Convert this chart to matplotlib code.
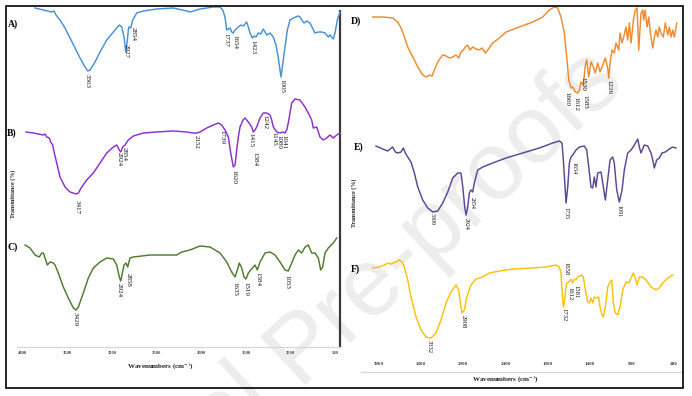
import matplotlib
matplotlib.use("Agg")
import matplotlib.pyplot as plt
from matplotlib.patches import Rectangle

plt.rcParams["mathtext.fontset"] = "stix"

# =============================
# DATA (wavenumber cm-1, transmittance a.u.)
# =============================
wn_A = [3862, 3769, 3675, 3649, 3627, 3582, 3526, 3470, 3414, 3358, 3302, 3272, 3246, 3190,
        3134, 3059, 2985, 2918, 2891, 2865, 2846, 2828, 2813, 2790, 2768, 2723, 2649, 2499,
        2313, 2163, 2126, 2089, 2014, 1865, 1790, 1760, 1734, 1715, 1697, 1678, 1659, 1641,
        1622, 1585, 1558, 1529, 1491, 1473, 1454, 1428, 1409, 1387, 1361, 1334, 1305, 1286,
        1267, 1230, 1193, 1163, 1137, 1118, 1107, 1092, 1062, 1036, 1006, 969, 913, 894,
        875, 849, 819, 782, 726, 689, 651, 614, 577, 558, 521, 502, 476, 446]
t_A = [99, 97, 95, 96, 92, 87, 79, 69, 59, 49, 40, 36, 37, 45,
       55, 67, 75, 82, 80, 70, 55, 67, 80, 79, 87, 94, 96, 98,
       99, 96, 95, 96, 98, 100, 100, 97, 90, 77, 78, 79, 75, 74,
       77, 80, 82, 81, 85, 80, 74, 69, 71, 70, 74, 73, 78, 75,
       72, 74, 70, 62, 49, 37, 30, 40, 60, 77, 87, 89, 91, 90,
       87, 84, 86, 84, 74, 75, 75, 74, 70, 72, 68, 74, 87, 95]

wn_B = [3963, 3881, 3769, 3750, 3731, 3702, 3686, 3664, 3649, 3619, 3582, 3526, 3470, 3403,
        3377, 3339, 3283, 3209, 3134, 3059, 2985, 2947, 2918, 2902, 2880, 2854, 2817, 2761,
        2649, 2499, 2313, 2163, 2089, 2051, 2014, 1939, 1865, 1809, 1771, 1734, 1697, 1670,
        1641, 1622, 1603, 1585, 1566, 1532, 1510, 1473, 1435, 1417, 1398, 1379, 1342, 1305,
        1267, 1230, 1211, 1193, 1155, 1118, 1081, 1062, 1043, 1025, 987, 950, 894, 838,
        801, 763, 745, 707, 670, 633, 595, 558, 521, 483, 446]
t_B = [65, 64, 62, 63, 60, 59, 55, 52, 45, 34, 20, 10, 5, 3,
       4, 10, 17, 24, 34, 44, 50, 52, 47, 45, 50, 52, 57, 61,
       64, 65, 66, 65, 64, 64, 65, 69, 72, 74, 72, 67, 60, 44,
       30, 32, 47, 60, 70, 77, 79, 75, 70, 65, 67, 70, 79, 84,
       84, 82, 77, 70, 65, 64, 65, 64, 67, 74, 94, 98, 97, 90,
       84, 77, 69, 70, 60, 57, 59, 62, 59, 62, 64]

wn_C = [3974, 3918, 3862, 3814, 3787, 3769, 3750, 3724, 3694, 3657, 3638, 3601, 3545, 3489,
        3433, 3403, 3377, 3321, 3265, 3209, 3134, 3059, 2985, 2947, 2918, 2902, 2884, 2865,
        2843, 2824, 2798, 2761, 2574, 2387, 2275, 2219, 2126, 2014, 1902, 1790, 1715, 1659,
        1622, 1596, 1574, 1547, 1521, 1499, 1473, 1446, 1417, 1398, 1372, 1342, 1286, 1230,
        1174, 1118, 1062, 1025, 987, 950, 913, 875, 838, 801, 763, 726, 689, 662,
        640, 614, 577, 521, 483]
t_C = [92, 89, 82, 80, 84, 84, 79, 72, 75, 74, 72, 64, 50, 39,
       29, 27, 30, 44, 59, 69, 75, 79, 78, 72, 60, 56, 64, 72,
       74, 70, 79, 80, 82, 82, 82, 85, 87, 91, 90, 84, 75, 65,
       60, 67, 74, 69, 60, 58, 64, 67, 70, 72, 67, 75, 84, 85,
       82, 75, 67, 66, 74, 82, 87, 84, 90, 92, 84, 84, 79, 67,
       70, 84, 89, 94, 99]

wn_D = [3975, 3856, 3738, 3678, 3639, 3600, 3560, 3500, 3441, 3382, 3343, 3303, 3271, 3244,
        3204, 3145, 3105, 3066, 3026, 2987, 2955, 2928, 2900, 2877, 2848, 2821, 2789, 2750,
        2711, 2679, 2639, 2611, 2551, 2473, 2394, 2236, 2077, 1959, 1880, 1821, 1781, 1742,
        1702, 1674, 1650, 1623, 1603, 1572, 1543, 1524, 1504, 1477, 1453, 1437, 1413, 1386,
        1358, 1335, 1306, 1279, 1247, 1216, 1188, 1176, 1160, 1137, 1110, 1089, 1057, 1042,
        1018, 998, 971, 951, 931, 911, 884, 860, 840, 820, 793, 773, 761, 745,
        721, 701, 682, 654, 635, 615, 595, 576, 556, 528, 505, 476, 457, 437,
        417, 398, 369]
t_D = [85, 85, 84, 80, 74, 65, 55, 45, 35, 27, 25, 27, 26, 32,
       40, 47, 46, 44, 45, 47, 44, 50, 52, 55, 57, 52, 55, 53,
       52, 54, 49, 52, 59, 64, 70, 75, 80, 85, 92, 95, 94, 85,
       69, 45, 22, 14, 15, 10, 9, 12, 20, 17, 37, 42, 25, 40,
       35, 29, 39, 30, 37, 44, 34, 24, 39, 52, 49, 59, 52, 69,
       59, 65, 75, 62, 79, 59, 82, 92, 94, 52, 89, 92, 82, 92,
       75, 85, 69, 54, 65, 72, 65, 75, 69, 65, 79, 67, 75, 65,
       72, 65, 79]

wn_E = [3936, 3856, 3797, 3738, 3707, 3678, 3639, 3612, 3588, 3560, 3521, 3481, 3441, 3382,
        3323, 3263, 3204, 3145, 3085, 3026, 2967, 2928, 2907, 2884, 2868, 2848, 2829, 2809,
        2789, 2770, 2730, 2670, 2552, 2394, 2236, 2157, 1999, 1840, 1762, 1730, 1714, 1694,
        1682, 1662, 1643, 1623, 1603, 1564, 1524, 1465, 1437, 1413, 1386, 1366, 1347, 1327,
        1307, 1267, 1247, 1216, 1188, 1160, 1129, 1110, 1081, 1050, 1018, 991, 951, 911,
        872, 832, 813, 793, 754, 714, 674, 654, 635, 607, 576, 544, 505, 457,
        417, 378]
t_E = [76, 73, 71, 75, 70, 69, 70, 74, 69, 65, 60, 49, 35, 22,
       14, 10, 11, 19, 30, 44, 49, 49, 35, 15, 7, 15, 29, 32,
       30, 39, 52, 55, 59, 64, 68, 70, 74, 79, 81, 79, 62, 35,
       19, 35, 59, 65, 67, 72, 75, 76, 72, 55, 35, 34, 45, 35,
       49, 50, 39, 22, 42, 62, 65, 59, 32, 20, 32, 52, 69, 72,
       77, 83, 75, 69, 77, 76, 69, 62, 54, 62, 64, 69, 70, 73,
       75, 74]

wn_F = [3975, 3897, 3837, 3797, 3758, 3738, 3698, 3659, 3627, 3600, 3560, 3521, 3461, 3402,
        3343, 3283, 3224, 3165, 3105, 3046, 2987, 2955, 2936, 2916, 2888, 2860, 2809, 2750,
        2670, 2592, 2473, 2314, 2077, 1919, 1801, 1762, 1742, 1722, 1710, 1691, 1674, 1650,
        1623, 1603, 1584, 1564, 1544, 1504, 1477, 1453, 1425, 1406, 1386, 1366, 1347, 1318,
        1295, 1279, 1255, 1240, 1216, 1188, 1160, 1140, 1121, 1098, 1069, 1042, 1010, 971,
        939, 911, 884, 860, 840, 813, 773, 734, 674, 615, 576, 535, 476, 417]
t_F = [79, 80, 82, 84, 83, 84, 85, 87, 85, 80, 67, 50, 30, 17,
       10, 9, 14, 27, 44, 55, 62, 57, 44, 34, 37, 50, 62, 68,
       70, 74, 76, 78, 79, 80, 82, 80, 74, 47, 40, 54, 64, 65,
       68, 64, 68, 67, 70, 72, 70, 57, 45, 44, 49, 44, 50, 49,
       50, 40, 32, 30, 40, 60, 65, 67, 44, 34, 32, 40, 57, 65,
       64, 69, 74, 69, 62, 70, 70, 67, 60, 57, 59, 64, 69, 72]

# peak labels: text, wavenumber position, transmittance of label top
lab_A = ["3363", "2927", "2854", "1737", "1654", "1423", "1005"]
lab_A_wn = [3276, 2843, 2768, 1723, 1619, 1424, 1099]
lab_A_t = [33, 63, 80, 74, 72, 67, 28]

lab_B = ["3417", "2924", "2854", "2152", "1739", "1620", "1415", "1384", "1242", "1145", "1080", "1041"]
lab_B_wn = [3388, 2918, 2865, 2062, 1771, 1630, 1446, 1398, 1286, 1182, 1129, 1073]
lab_B_t = [-3, 45, 50, 62, 67, 27, 64, 45, 82, 65, 62, 62]

lab_C = ["3429", "2924", "2858", "1635", "1519", "1384", "1053"]
lab_C_wn = [3414, 2921, 2817, 1622, 1502, 1361, 1036]
lab_C_t = [25, 54, 64, 55, 55, 65, 62]

lab_D = ["1660", "1612", "1530", "1585", "1226"]
lab_D_wn = [1674, 1564, 1481, 1457, 1169]
lab_D_t = [10, 5, 25, 7, 22]

lab_E = ["3309", "2924", "2854", "1735", "1654", "1091"]
lab_E_wn = [3271, 2868, 2789, 1682, 1591, 1050]
lab_E_t = [9, 4, 25, 15, 60, 17]

lab_F = ["3332", "2908", "1658", "1732", "1612", "1581"]
lab_F_wn = [3304, 2907, 1682, 1702, 1631, 1564]
lab_F_t = [7, 32, 85, 39, 60, 62]

ticks_left = [4000, 3500, 3000, 2500, 2000, 1500, 1000, 500]
ticks_right = [3900, 3400, 2900, 2400, 1900, 1400, 900, 400]

# =============================
# FIGURE
# =============================
W, H = 692, 396
SERIF = "Liberation Serif"


def fpos(x, y):
    # pixel position -> figure fraction
    return x / W, 1 - y / H


fig = plt.figure(figsize=(W / 100, H / 100), dpi=100)

# watermark (baseline anchored at the start of "Pre-proofs")
wx, wy = fpos(297, 385)
fig.text(wx, wy, "Journal ", fontsize=69, color="#ededed",
         family="Liberation Sans", rotation=43, ha="right", va="baseline",
         rotation_mode="anchor", zorder=-5)
fig.text(wx, wy, "Pre-proofs", fontsize=69, color="#ededed",
         family="Liberation Sans", rotation=43, ha="left", va="baseline",
         rotation_mode="anchor", zorder=-5)

# outer frame
x0, y0 = fpos(6, 388)
fig.patches.append(Rectangle((x0, y0), (683 - 6) / W, (388 - 6) / H,
                             transform=fig.transFigure, fill=False,
                             edgecolor="black", lw=1.2))

ax_l = fig.add_axes([17 / W, (H - 347) / H, (340 - 17) / W, (347 - 11) / H])
ax_r = fig.add_axes([361 / W, (H - 372) / H, (683 - 361) / W, (372 - 5) / H])

ax_l.set_xlim(4064, 446)
ax_l.set_ylim(0, 336)
ax_r.set_xlim(4114, 295)
ax_r.set_ylim(0, 367)

for ax in (ax_l, ax_r):
    ax.set_facecolor("none")
    ax.set_yticks([])
    ax.spines["top"].set_visible(False)
    ax.spines["left"].set_visible(False)
    ax.spines["bottom"].set_color("#d6d6d6")
    ax.spines["bottom"].set_linewidth(0.9)

ax_l.spines["right"].set_color("#3a3a3a")
ax_l.spines["right"].set_linewidth(1.6)
ax_r.spines["right"].set_visible(False)

ax_l.set_xticks(ticks_left)
ax_l.tick_params(axis="x", length=0, pad=3, labelsize=3.3, labelcolor="#444444")
ax_r.set_xticks(ticks_right)
ax_r.tick_params(axis="x", length=0, pad=-7.2, labelsize=3.6, labelcolor="#444444")
for ax in (ax_l, ax_r):
    for lab in ax.get_xticklabels():
        lab.set_family(SERIF)
        lab.set_weight("bold")

# spectra: (axes, wn, T, offset, color, labels, label wn, label T, label size)
spectra = [
    (ax_l, wn_A, t_A, 240, "#4a8fd6", lab_A, lab_A_wn, lab_A_t, 5.0),
    (ax_l, wn_B, t_B, 150, "#8a2fd0", lab_B, lab_B_wn, lab_B_t, 5.0),
    (ax_l, wn_C, t_C, 10, "#4f7a30", lab_C, lab_C_wn, lab_C_t, 5.0),
    (ax_r, wn_D, t_D, 270, "#ef8a2e", lab_D, lab_D_wn, lab_D_t, 5.0),
    (ax_r, wn_E, t_E, 150, "#5d4695", lab_E, lab_E_wn, lab_E_t, 4.3),
    (ax_r, wn_F, t_F, 25, "#fcc20a", lab_F, lab_F_wn, lab_F_t, 4.8),
]

for ax, wn, t, off, col, labs, lwn, lt, fs in spectra:
    ax.plot(wn, [v + off for v in t], color=col, lw=1.05, zorder=3, clip_on=False)
    for s, x, y in zip(labs, lwn, lt):
        ax.text(x, y + off, s, rotation=270, ha="center", va="top",
                fontsize=fs, family=SERIF, color="#111111", zorder=4)

# panel letters
letters = [("A)", 8, 24), ("B)", 7, 133), ("C)", 7, 247),
           ("D)", 351, 21), ("E)", 354, 147), ("F)", 351, 269)]
for s, x, y in letters:
    fx, fy = fpos(x, y)
    fig.text(fx, fy, s, fontsize=7, family=SERIF, weight="bold", ha="left", va="center")

# axis titles
for x, y in [(13, 194), (354, 203)]:
    fx, fy = fpos(x, y)
    fig.text(fx, fy, "Transmittance (%)", fontsize=4.3, family=SERIF, weight="bold",
             rotation=90, ha="center", va="center", color="#222222")
for x, y in [(160, 367), (505, 380)]:
    fx, fy = fpos(x, y)
    fig.text(fx, fy, "Wavenumbers (cm$^{-1}$)", fontsize=5, family=SERIF, weight="bold",
             ha="center", va="center", color="#222222")

fig.savefig("out.png", dpi=100)
plt.close(fig)
